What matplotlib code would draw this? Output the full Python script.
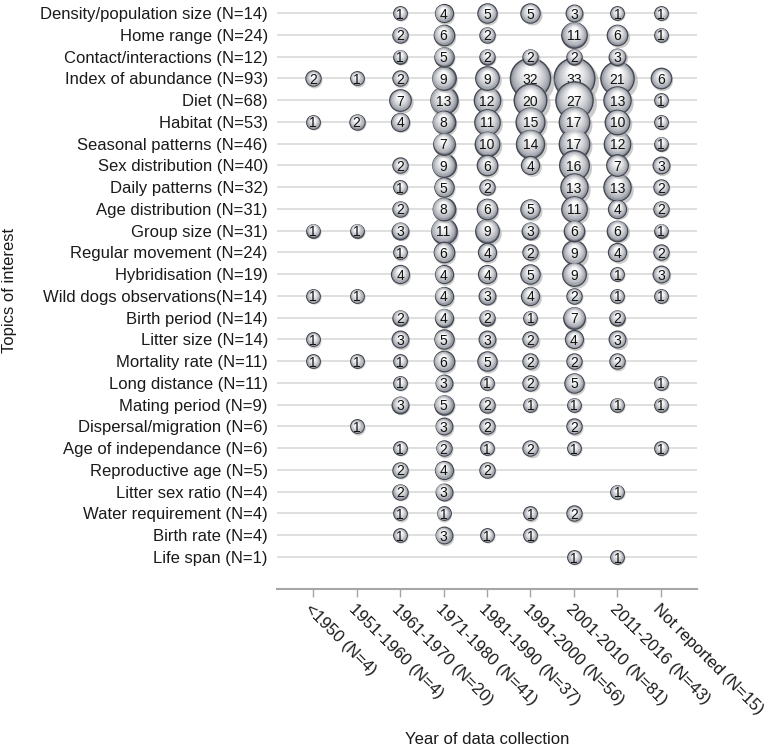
import matplotlib

matplotlib.use("Agg")
import matplotlib.pyplot as plt
import numpy as np
from matplotlib.colors import to_rgb
from matplotlib.transforms import offset_copy

plt.rcParams["font.family"] = ["Liberation Sans", "DejaVu Sans"]

TOPICS = [
    "Density/population size (N=14)",
    "Home range (N=24)",
    "Contact/interactions (N=12)",
    "Index of abundance (N=93)",
    "Diet (N=68)",
    "Habitat (N=53)",
    "Seasonal patterns (N=46)",
    "Sex distribution (N=40)",
    "Daily patterns (N=32)",
    "Age distribution (N=31)",
    "Group size (N=31)",
    "Regular movement (N=24)",
    "Hybridisation (N=19)",
    "Wild dogs observations(N=14)",
    "Birth period (N=14)",
    "Litter size (N=14)",
    "Mortality rate (N=11)",
    "Long distance (N=11)",
    "Mating period (N=9)",
    "Dispersal/migration (N=6)",
    "Age of independance (N=6)",
    "Reproductive age (N=5)",
    "Litter sex ratio (N=4)",
    "Water requirement (N=4)",
    "Birth rate (N=4)",
    "Life span (N=1)",
]

PERIODS = [
    "<1950 (N=4)",
    "1951-1960 (N=4)",
    "1961-1970 (N=20)",
    "1971-1980 (N=41)",
    "1981-1990 (N=37)",
    "1991-2000 (N=56)",
    "2001-2010 (N=81)",
    "2011-2016 (N=43)",
    "Not reported (N=15)",
]

# one row per topic, one column per period, 0 = no study
COUNTS = [
    [0, 0, 1, 4, 5, 5, 3, 1, 1],
    [0, 0, 2, 6, 2, 0, 11, 6, 1],
    [0, 0, 1, 5, 2, 2, 2, 3, 0],
    [2, 1, 2, 9, 9, 32, 33, 21, 6],
    [0, 0, 7, 13, 12, 20, 27, 13, 1],
    [1, 2, 4, 8, 11, 15, 17, 10, 1],
    [0, 0, 0, 7, 10, 14, 17, 12, 1],
    [0, 0, 2, 9, 6, 4, 16, 7, 3],
    [0, 0, 1, 5, 2, 0, 13, 13, 2],
    [0, 0, 2, 8, 6, 5, 11, 4, 2],
    [1, 1, 3, 11, 9, 3, 6, 6, 1],
    [0, 0, 1, 6, 4, 2, 9, 4, 2],
    [0, 0, 4, 4, 4, 5, 9, 1, 3],
    [1, 1, 0, 4, 3, 4, 2, 1, 1],
    [0, 0, 2, 4, 2, 1, 7, 2, 0],
    [1, 0, 3, 5, 3, 2, 4, 3, 0],
    [1, 1, 1, 6, 5, 2, 2, 2, 0],
    [0, 0, 1, 3, 1, 2, 5, 0, 1],
    [0, 0, 3, 5, 2, 1, 1, 1, 1],
    [0, 1, 0, 3, 2, 0, 2, 0, 0],
    [0, 0, 1, 2, 1, 2, 1, 0, 1],
    [0, 0, 2, 4, 2, 0, 0, 0, 0],
    [0, 0, 2, 3, 0, 0, 0, 1, 0],
    [0, 0, 1, 1, 0, 1, 2, 0, 0],
    [0, 0, 1, 3, 1, 1, 0, 0, 0],
    [0, 0, 0, 0, 0, 0, 1, 1, 0],
]


def bubble_size(value):
    return 70 + 24 * value


def main():
    fig = plt.figure(figsize=(7.65, 7.51), dpi=100)
    ax = fig.add_axes([277 / 765, 1 - 589 / 751, 420 / 765, 589 / 751])

    n_rows = len(TOPICS)
    ax.set_xlim(-0.83, len(PERIODS) - 1 + 0.83)
    ax.set_ylim(n_rows - 1 + 1.47, -0.6)

    ax.set_yticks(range(n_rows))
    ax.set_yticklabels(TOPICS, fontsize=12, color="#1a1a1a")
    ax.yaxis.grid(True, color="#dcdcdc", linewidth=1.3)
    ax.set_axisbelow(True)

    ax.set_xticks(range(len(PERIODS)))
    ax.set_xticklabels(PERIODS, rotation=-45, ha="left", va="top",
                       rotation_mode="anchor", fontsize=12, color="#1a1a1a")
    ax.tick_params(axis="x", length=6, width=1, color="#a6a6a6", pad=3)
    ax.tick_params(axis="y", length=0, pad=6.5)

    for side in ("top", "right", "left"):
        ax.spines[side].set_visible(False)
    ax.spines["bottom"].set_color("#a6a6a6")
    ax.spines["bottom"].set_linewidth(1.5)

    cells = [(r, c, v) for r, row in enumerate(COUNTS) for c, v in enumerate(row) if v]
    values = sorted({v for _, _, v in cells}, reverse=True)

    dark = np.array(to_rgb("#767b87"))
    light = np.array([1.0, 1.0, 1.0])
    n_layers = 16
    z = 3.0
    # biggest bubbles first so small ones sit on top
    for v in values:
        xs = [c for r, c, vv in cells if vv == v]
        ys = [r for r, c, vv in cells if vv == v]
        s = bubble_size(v)
        rad = np.sqrt(s) / 2
        shadow = offset_copy(ax.transData, fig=fig, x=0.14 * rad, y=-0.18 * rad, units="points")
        ax.scatter(xs, ys, s=s * 1.1, color="#a9a9a9", alpha=0.6, linewidths=0,
                   transform=shadow, zorder=z, clip_on=False)
        ax.scatter(xs, ys, s=s, color=dark, edgecolors="#44474f", linewidths=1.0,
                   zorder=z + 0.01, clip_on=False)
        for k in range(1, n_layers):
            t = k / (n_layers - 1)
            scale = 1 - 0.78 * t
            col = dark + (light - dark) * t ** 0.55
            tr = offset_copy(ax.transData, fig=fig, x=-0.03 * rad * t, y=0.38 * rad * t, units="points")
            ax.scatter(xs, ys, s=s * scale ** 2, color=col, linewidths=0, transform=tr,
                       zorder=z + 0.01 + 0.001 * k, clip_on=False)
        for x, y in zip(xs, ys):
            ax.text(x, y, str(v), ha="center", va="center_baseline", fontsize=10,
                    color="#111111", zorder=z + 0.05)
        z += 0.1

    fig.text(487 / 765, 1 - 740 / 751, "Year of data collection", ha="center", va="center",
             fontsize=12, color="#1a1a1a")
    fig.text(10 / 765, 1 - 290 / 751, "Topics of interest", ha="center", va="center",
             rotation=90, fontsize=12, color="#1a1a1a")

    fig.savefig("out.png", dpi=100)
    plt.close(fig)


if __name__ == "__main__":
    main()
